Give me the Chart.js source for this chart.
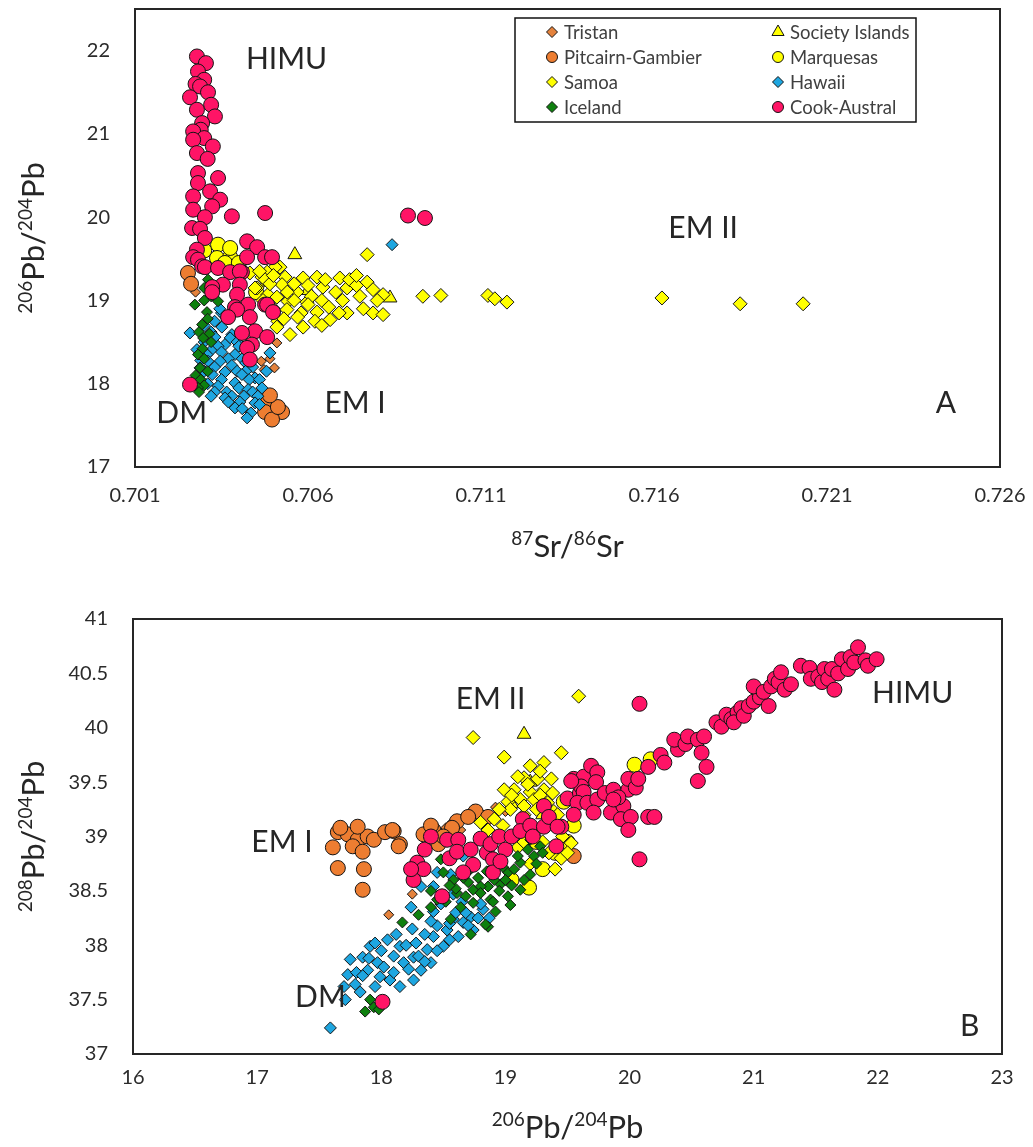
<!DOCTYPE html>
<html>
<head>
<meta charset="utf-8">
<script src="https://cdn.jsdelivr.net/npm/chart.js@4.4.0/dist/chart.umd.min.js"></script>
<style>
  html, body { margin: 0; padding: 0; background: #fff; }
  #wrap { position: relative; width: 1033px; height: 1147px; }
  canvas { position: absolute; left: 0; }
  #chartA { top: 0; }
  #chartB { top: 580px; }
</style>
</head>
<body>
<div id="wrap">
  <canvas id="chartA" width="1033" height="580"></canvas>
  <canvas id="chartB" width="1033" height="567"></canvas>
</div>
<script>
// --- DATOS: ticks ---
const srTickLabels = ['0.701', '0.706', '0.711', '0.716', '0.721', '0.726'];
const pb206TickLabelsA = ['17', '18', '19', '20', '21', '22'];
const pb206TickLabelsB = ['16', '17', '18', '19', '20', '21', '22', '23'];
const pb208TickLabels = ['37', '37.5', '38', '38.5', '39', '39.5', '40', '40.5', '41'];

// --- DATOS: series (A = 87Sr/86Sr vs 206Pb/204Pb, B = 206Pb/204Pb vs 208Pb/204Pb) ---
const seriesNames = ['Tristan', 'Society Islands', 'Pitcairn-Gambier', 'Marquesas', 'Samoa', 'Hawaii', 'Iceland', 'Cook-Austral'];

const tristanA = [[0.70473,18.17],[0.70503,18.19],[0.70510,18.49],[0.70275,19.10],[0.70465,18.27],[0.70490,18.30]];
const tristanB = [[18.06,38.28],[18.25,38.47],[18.74,39.25],[18.80,39.22],[18.66,39.18],[18.57,39.13],[18.92,39.27],[19.00,39.23],[18.52,39.08],[18.88,39.16],[18.64,39.06],[18.45,38.98]];

const societyA = [[0.70562,19.55],[0.70837,19.03],[0.70480,19.22],[0.70600,19.12]];
const societyB = [[19.15,39.94],[19.20,39.50],[19.05,39.30],[19.30,39.20]];

const pitcairnA = [[0.70484,17.78],[0.70505,17.66],[0.70476,17.66],[0.70525,17.66],[0.70496,17.57],[0.70513,17.72],[0.70490,17.86],[0.70253,19.33],[0.70262,19.20]];
const pitcairnB = [[17.65,39.04],[17.73,39.02],[17.81,38.97],[17.89,39.00],[17.77,38.91],[17.85,38.86],[17.94,38.97],[17.61,38.90],[18.03,39.04],[18.10,39.05],[18.15,38.93],[17.65,38.71],[17.86,38.70],[17.85,38.51],[17.81,39.09],[17.67,39.08],[18.14,38.91],[18.09,39.06],[18.42,39.06],[18.46,38.93],[18.61,39.14],[18.76,39.23],[18.70,39.18],[18.86,39.18],[19.55,38.82],[18.57,39.08],[18.50,39.00],[18.34,39.02],[18.40,39.10]];

const marquesasA = [[0.70340,19.67],[0.70337,19.51],[0.70375,19.52],[0.70375,19.63],[0.70300,19.60],[0.70360,19.45],[0.70400,19.45],[0.70450,19.10]];
const marquesasB = [[20.04,39.66],[20.17,39.71],[19.47,39.32],[19.19,38.53],[19.55,39.10],[19.40,38.85],[19.30,38.70],[19.50,38.95],[19.05,38.60],[19.25,38.95]];

const samoaA = [[0.70771,19.55],[0.70519,19.40],[0.70505,19.40],[0.70432,19.33],[0.70482,19.34],[0.70534,19.28],[0.70467,19.28],[0.70586,19.27],[0.70626,19.28],[0.70692,19.27],[0.70476,19.25],[0.70771,19.22],[0.70525,19.19],[0.70643,19.16],[0.70713,19.15],[0.70453,19.15],[0.70447,19.15],[0.70788,19.13],[0.70568,19.10],[0.70817,19.07],[0.70484,19.07],[0.70510,19.04],[0.70597,18.98],[0.70542,18.99],[0.70539,18.89],[0.70626,18.86],[0.70713,18.85],[0.70788,18.85],[0.70817,18.83],[0.70664,18.77],[0.70513,18.75],[0.70586,18.68],[0.70510,18.68],[0.70548,18.59],[0.70460,19.35],[0.70490,19.20],[0.70500,19.30],[0.70540,19.10],[0.70560,19.20],[0.70560,19.00],[0.70580,18.85],[0.70600,19.18],[0.70610,19.05],[0.70640,19.00],[0.70650,19.25],[0.70660,18.92],[0.70680,19.10],[0.70700,19.00],[0.70720,19.25],[0.70740,19.18],[0.70750,19.05],[0.70760,18.90],[0.70690,18.85],[0.70620,18.75],[0.70570,18.80],[0.70530,18.78],[0.70500,18.90],[0.70470,19.00],[0.70640,18.70],[0.70600,18.95],[0.70740,19.30],[0.70800,19.00],[0.70932,19.05],[0.70984,19.06],[0.71120,19.06],[0.71140,19.02],[0.71175,18.98],[0.71623,19.03],[0.71849,18.96],[0.72031,18.96]];
const samoaB = [[18.74,39.91],[18.99,39.73],[19.45,39.77],[19.59,40.29],[19.20,39.65],[19.31,39.68],[19.15,39.54],[19.26,39.53],[19.37,39.53],[19.07,39.43],[18.99,39.43],[19.20,39.41],[19.31,39.43],[19.12,39.34],[19.23,39.34],[19.02,39.32],[19.34,39.31],[19.39,39.23],[18.80,39.13],[18.91,39.16],[18.86,39.06],[19.46,39.00],[19.53,38.94],[19.04,39.25],[19.15,39.20],[19.25,39.05],[19.35,38.85],[19.45,38.80],[19.20,38.75],[19.10,38.90],[19.28,39.60],[19.10,39.55],[19.18,39.48],[19.05,39.38],[19.28,39.38],[19.15,39.28],[18.95,39.25],[19.38,39.40],[19.25,39.25],[18.98,39.10],[19.42,39.20],[19.50,38.85],[19.30,38.95],[19.15,38.95],[19.40,38.70]];

const hawaiiA = [[0.70843,19.67],[0.70360,18.81],[0.70350,18.85],[0.70330,18.75],[0.70345,18.90],[0.70300,18.70],[0.70351,18.68],[0.70320,18.62],[0.70259,18.61],[0.70380,18.59],[0.70331,18.56],[0.70375,18.55],[0.70395,18.50],[0.70300,18.50],[0.70360,18.47],[0.70340,18.45],[0.70400,18.45],[0.70279,18.41],[0.70320,18.40],[0.70350,18.38],[0.70300,18.38],[0.70490,18.37],[0.70308,18.35],[0.70389,18.35],[0.70370,18.30],[0.70410,18.30],[0.70290,18.28],[0.70346,18.27],[0.70311,18.27],[0.70420,18.25],[0.70380,18.22],[0.70440,18.20],[0.70330,18.20],[0.70288,18.19],[0.70395,18.15],[0.70420,18.15],[0.70300,18.15],[0.70480,18.15],[0.70360,18.14],[0.70323,18.11],[0.70409,18.11],[0.70447,18.07],[0.70350,18.05],[0.70430,18.05],[0.70460,18.05],[0.70297,18.01],[0.70389,18.01],[0.70310,18.00],[0.70340,17.97],[0.70400,17.95],[0.70467,17.95],[0.70427,17.93],[0.70365,17.90],[0.70330,17.90],[0.70440,17.90],[0.70320,17.85],[0.70380,17.85],[0.70415,17.85],[0.70455,17.85],[0.70360,17.83],[0.70403,17.78],[0.70370,17.78],[0.70447,17.77],[0.70460,17.75],[0.70389,17.71],[0.70410,17.70],[0.70435,17.65],[0.70424,17.59]];
const hawaiiB = [[17.59,37.24],[17.73,37.73],[17.85,37.89],[17.89,37.77],[17.83,37.57],[17.71,37.50],[17.79,37.64],[17.75,37.87],[17.91,37.99],[17.97,37.84],[17.99,37.71],[18.05,38.05],[18.07,37.68],[18.15,37.99],[18.18,37.84],[18.15,37.62],[18.26,37.89],[18.32,37.77],[18.26,37.68],[18.37,37.96],[18.42,38.08],[18.40,37.84],[18.50,37.99],[18.53,38.14],[18.62,38.08],[18.58,38.24],[18.66,38.21],[18.72,38.26],[18.74,38.14],[18.82,38.33],[18.24,38.35],[18.42,38.31],[18.58,38.47],[18.87,38.25],[18.32,38.54],[18.45,38.67],[18.56,38.65],[18.42,38.54],[18.66,38.82],[17.80,37.75],[17.90,37.88],[17.95,37.62],[18.00,37.95],[18.02,37.80],[18.10,37.90],[18.10,37.75],[18.20,38.00],[18.22,37.78],[18.28,38.02],[18.30,37.90],[18.35,38.10],[18.35,37.85],[18.45,38.18],[18.45,37.95],[18.55,38.05],[18.55,38.20],[18.60,38.30],[18.68,38.30],[18.70,38.18],[18.78,38.25],[18.80,38.38],[18.48,38.38],[18.40,38.22],[18.12,38.10],[17.95,38.02],[17.85,37.72],[17.70,37.62],[18.25,38.15],[18.65,38.40]];

const icelandA = [[0.70311,19.25],[0.70300,19.15],[0.70331,19.11],[0.70320,19.05],[0.70340,18.99],[0.70300,19.00],[0.70273,18.95],[0.70308,18.86],[0.70310,18.78],[0.70294,18.71],[0.70285,18.62],[0.70315,18.60],[0.70297,18.55],[0.70320,18.50],[0.70295,18.42],[0.70282,18.35],[0.70300,18.30],[0.70288,18.19],[0.70310,18.15],[0.70275,18.10],[0.70290,18.05],[0.70300,17.98],[0.70282,17.95],[0.70285,17.90]];
const icelandB = [[17.91,37.50],[17.94,37.43],[17.87,37.39],[17.98,37.41],[18.17,38.21],[18.45,38.42],[18.61,38.48],[18.74,38.51],[18.86,38.54],[18.96,38.56],[18.64,38.35],[18.74,38.39],[18.88,38.42],[19.02,38.45],[18.72,38.10],[18.86,38.17],[18.50,38.67],[18.58,38.60],[18.70,38.58],[18.80,38.54],[18.91,38.60],[19.02,38.67],[19.12,38.76],[19.23,38.82],[19.28,38.91],[19.18,38.88],[19.07,38.70],[18.72,38.70],[18.48,38.79],[19.20,38.97],[19.12,38.51],[19.04,38.37],[18.92,38.31],[19.20,38.65],[18.84,38.19],[18.56,38.24],[18.30,38.28],[18.40,38.35],[18.52,38.40],[18.68,38.45],[18.80,38.48],[18.95,38.50],[19.05,38.55],[19.15,38.60],[19.25,38.75],[19.30,38.85],[18.98,38.72],[18.85,38.68],[18.60,38.52],[18.78,38.62],[19.10,38.82],[18.90,38.40],[19.00,38.60],[18.66,38.62],[18.55,38.55],[18.40,38.50]];

const cookA = [[0.70279,21.93],[0.70305,21.85],[0.70282,21.75],[0.70300,21.65],[0.70275,21.60],[0.70288,21.57],[0.70311,21.50],[0.70259,21.44],[0.70320,21.35],[0.70279,21.29],[0.70331,21.21],[0.70294,21.13],[0.70290,21.05],[0.70268,21.03],[0.70300,20.95],[0.70268,20.93],[0.70325,20.85],[0.70279,20.77],[0.70310,20.70],[0.70282,20.53],[0.70340,20.47],[0.70282,20.41],[0.70317,20.31],[0.70268,20.25],[0.70346,20.21],[0.70323,20.13],[0.70268,20.09],[0.70476,20.05],[0.70380,20.01],[0.70302,20.00],[0.70889,20.02],[0.70938,19.99],[0.70265,19.87],[0.70288,19.86],[0.70302,19.75],[0.70424,19.71],[0.70453,19.64],[0.70279,19.61],[0.70268,19.52],[0.70424,19.52],[0.70476,19.52],[0.70496,19.52],[0.70282,19.49],[0.70294,19.41],[0.70302,19.40],[0.70340,19.39],[0.70375,19.34],[0.70409,19.34],[0.70403,19.35],[0.70354,19.19],[0.70403,19.19],[0.70323,19.16],[0.70323,19.10],[0.70395,19.07],[0.70427,18.95],[0.70476,18.95],[0.70482,18.95],[0.70389,18.92],[0.70395,18.89],[0.70499,18.86],[0.70432,18.80],[0.70369,18.80],[0.70447,18.63],[0.70409,18.61],[0.70482,18.56],[0.70438,18.47],[0.70424,18.43],[0.70432,18.29],[0.70259,17.99]];
const cookB = [[18.01,37.48],[18.29,38.76],[18.34,38.70],[18.26,38.60],[18.24,38.70],[18.35,38.88],[18.40,39.00],[18.53,38.97],[18.55,38.80],[18.62,38.97],[18.61,38.86],[18.72,38.88],[18.74,38.74],[18.66,38.67],[18.49,38.45],[18.80,38.98],[18.85,38.85],[18.88,38.93],[18.95,39.00],[19.00,38.88],[19.05,39.00],[18.90,38.79],[18.90,38.67],[18.96,38.77],[19.14,39.16],[19.12,39.05],[19.20,39.10],[19.22,39.00],[19.31,39.28],[19.31,39.09],[19.35,39.18],[19.41,38.91],[19.45,39.09],[19.42,39.09],[19.50,39.35],[19.55,39.53],[19.60,39.40],[19.63,39.55],[19.69,39.65],[19.74,39.59],[19.73,39.50],[19.61,39.46],[19.53,39.51],[19.63,39.41],[19.58,39.31],[19.66,39.31],[19.74,39.34],[19.55,39.20],[19.71,39.22],[19.80,39.40],[19.85,39.22],[19.87,39.43],[19.95,39.28],[19.99,39.43],[19.91,39.36],[19.87,39.34],[19.99,39.53],[20.05,39.45],[20.07,39.53],[19.93,39.16],[20.01,39.18],[19.99,39.06],[20.15,39.18],[20.20,39.18],[20.08,38.79],[20.08,40.22],[20.15,39.64],[20.25,39.75],[20.28,39.68],[20.39,39.80],[20.36,39.89],[20.45,39.85],[20.47,39.92],[20.55,39.89],[20.60,39.92],[20.58,39.77],[20.62,39.64],[20.55,39.51],[20.70,40.05],[20.74,40.01],[20.78,40.12],[20.82,40.08],[20.87,40.14],[20.84,40.05],[20.90,40.18],[20.92,40.11],[20.96,40.20],[21.00,40.24],[21.05,40.28],[21.12,40.20],[21.00,40.38],[21.08,40.33],[21.14,40.38],[21.17,40.45],[21.20,40.42],[21.22,40.51],[21.25,40.35],[21.30,40.40],[21.38,40.57],[21.45,40.55],[21.46,40.45],[21.52,40.47],[21.55,40.42],[21.57,40.54],[21.60,40.45],[21.63,40.54],[21.65,40.35],[21.68,40.50],[21.71,40.63],[21.76,40.54],[21.78,40.65],[21.81,40.60],[21.84,40.74],[21.90,40.62],[21.92,40.57],[21.99,40.63]];

// --- ETIQUETAS (texto, x, y en unidades de datos) ---
const marksA = [['HIMU', 0.70538, 21.89], ['EM II', 0.71742, 19.87], ['EM I', 0.70736, 17.77], ['DM', 0.70235, 17.65], ['A', 0.72444, 17.76]];
const marksB = [['EM II', 18.88, 40.26], ['EM I', 17.20, 38.95], ['DM', 17.51, 37.52], ['HIMU', 22.28, 40.32], ['B', 22.74, 37.25]];

// --- ESTILO ---
const FONT = "Lato, 'Open Sans', sans-serif";
const TEXT = '#262626';
const seriesStyle = {
    'Tristan':          { shape: 'rectRot',  fill: '#E4823C', r: 5,   order: 7 },
    'Society Islands':  { shape: 'triangle', fill: '#FFFF00', r: 8,   order: 5 },
    'Pitcairn-Gambier': { shape: 'circle',   fill: '#ED7D31', r: 7.5, order: 6 },
    'Marquesas':        { shape: 'circle',   fill: '#FFFF00', r: 7.5, order: 4 },
    'Samoa':            { shape: 'rectRot',  fill: '#FFFF00', r: 7,   order: 3 },
    'Hawaii':           { shape: 'rectRot',  fill: '#1EA6E0', r: 6,   order: 2 },
    'Iceland':          { shape: 'rectRot',  fill: '#0E800E', r: 5.5, order: 1 },
    'Cook-Austral':     { shape: 'circle',   fill: '#FF1466', r: 7.5, order: 0 }
};
const dataA = { 'Tristan': tristanA, 'Society Islands': societyA, 'Pitcairn-Gambier': pitcairnA, 'Marquesas': marquesasA, 'Samoa': samoaA, 'Hawaii': hawaiiA, 'Iceland': icelandA, 'Cook-Austral': cookA };
const dataB = { 'Tristan': tristanB, 'Society Islands': societyB, 'Pitcairn-Gambier': pitcairnB, 'Marquesas': marquesasB, 'Samoa': samoaB, 'Hawaii': hawaiiB, 'Iceland': icelandB, 'Cook-Austral': cookB };

function buildDatasets(src) {
    return seriesNames.map(name => {
        const s = seriesStyle[name];
        return {
            label: name,
            data: src[name].map(p => ({ x: p[0], y: p[1] })),
            pointStyle: s.shape,
            pointRadius: s.r,
            pointHoverRadius: s.r,
            backgroundColor: s.fill,
            borderColor: '#141414',
            borderWidth: 1,
            order: s.order
        };
    });
}

// --- PLUGINS ---
const frameBox = {
    id: 'frameBox',
    beforeDatasetsDraw(chart) {
        const { ctx, chartArea: a } = chart;
        ctx.save();
        ctx.strokeStyle = '#262626';
        ctx.lineWidth = 2;
        ctx.strokeRect(a.left, a.top, a.right - a.left, a.bottom - a.top);
        ctx.restore();
    }
};

const textMarks = {
    id: 'textMarks',
    afterDatasetsDraw(chart, args, opts) {
        const { ctx, scales } = chart;
        ctx.save();
        ctx.fillStyle = TEXT;
        ctx.textAlign = 'center';
        ctx.textBaseline = 'middle';
        ctx.font = '30px ' + FONT;
        (opts.items || []).forEach(m => {
            ctx.fillText(m[0], scales.x.getPixelForValue(m[1]), scales.y.getPixelForValue(m[2]));
        });
        ctx.restore();
    }
};

function drawRich(ctx, parts, cx, cy, rotate) {
    ctx.save();
    ctx.translate(cx, cy);
    if (rotate) ctx.rotate(-Math.PI / 2);
    ctx.fillStyle = TEXT;
    ctx.textBaseline = 'alphabetic';
    ctx.textAlign = 'left';
    let total = 0;
    const widths = parts.map(p => {
        ctx.font = (p[1] ? '19px ' : '31px ') + FONT;
        const w = ctx.measureText(p[0]).width;
        total += w;
        return w;
    });
    let x = -total / 2;
    parts.forEach((p, i) => {
        ctx.font = (p[1] ? '19px ' : '31px ') + FONT;
        ctx.fillText(p[0], x, p[1] ? -1 : 11);
        x += widths[i];
    });
    ctx.restore();
}

const axisTitles = {
    id: 'axisTitles',
    afterDraw(chart, args, opts) {
        const { ctx, chartArea: a } = chart;
        drawRich(ctx, opts.x, (a.left + a.right) / 2, opts.xPos, false);
        drawRich(ctx, opts.y, opts.yPos, (a.top + a.bottom) / 2, true);
    }
};

const boxLegend = {
    id: 'boxLegend',
    afterDatasetsDraw(chart, args, opts) {
        if (!opts.show) return;
        const { ctx } = chart;
        const left = 515, top = 18, w = 401, h = 104;
        ctx.save();
        ctx.fillStyle = '#fff';
        ctx.fillRect(left, top, w, h);
        ctx.strokeStyle = '#111';
        ctx.lineWidth = 1.5;
        ctx.strokeRect(left, top, w, h);
        ctx.font = '18.5px ' + FONT;
        ctx.textBaseline = 'middle';
        ctx.textAlign = 'left';
        chart.data.datasets.forEach((ds, i) => {
            const col = i % 2, row = Math.floor(i / 2);
            const mx = left + (col ? 263 : 37);
            const my = top + 14 + row * 25;
            ctx.fillStyle = ds.backgroundColor;
            ctx.strokeStyle = ds.borderColor;
            ctx.lineWidth = 1;
            const r = ds.pointStyle === 'triangle' ? 7 : 5.5;
            Chart.helpers.drawPoint(ctx, { pointStyle: ds.pointStyle, radius: r, borderWidth: 1, rotation: 0 }, mx, my);
            ctx.fillStyle = '#404040';
            ctx.fillText(ds.label, mx + 12, my + 1);
        });
        ctx.restore();
    }
};

Chart.defaults.font.family = FONT;
Chart.defaults.color = '#333';

function tickAxis(min, max, labels, pad, fitKey, fitVal) {
    return {
        type: 'linear',
        min: min,
        max: max,
        afterBuildTicks: s => { s.ticks = labels.map(t => ({ value: parseFloat(t) })); },
        ticks: {
            callback: (v, i) => labels[i],
            autoSkip: false,
            maxRotation: 0,
            padding: pad,
            color: '#2b2b2b',
            font: { size: 20, family: FONT }
        },
        grid: { display: false, drawTicks: false },
        border: { display: false },
        afterFit: s => {
            s[fitKey] = fitVal;
            // keep layout padding in charge of the plot box
            s.paddingTop = 0; s.paddingBottom = 0; s.paddingLeft = 0; s.paddingRight = 0;
        }
    };
}

function makeChart(id, src, xAxis, yAxis, padTop, padRight, marks, titles, showLegend) {
    return new Chart(document.getElementById(id), {
        type: 'scatter',
        data: { datasets: buildDatasets(src) },
        options: {
            responsive: false,
            animation: false,
            events: [],
            layout: { padding: { top: padTop, right: padRight, left: 0, bottom: 0 } },
            scales: { x: xAxis, y: yAxis },
            plugins: {
                legend: { display: false },
                tooltip: { enabled: false },
                textMarks: { items: marks },
                axisTitles: titles,
                boxLegend: { show: showLegend }
            }
        },
        plugins: [frameBox, textMarks, axisTitles, boxLegend]
    });
}

makeChart('chartA', dataA,
    tickAxis(0.701, 0.726, srTickLabels, 17, 'height', 113),
    tickAxis(17, 22.5, pb206TickLabelsA, 25, 'width', 135),
    9, 33, marksA,
    { x: [['87', true], ['Sr/', false], ['86', true], ['Sr', false]], xPos: 546,
      y: [['206', true], ['Pb/', false], ['204', true], ['Pb', false]], yPos: 33 },
    true);

makeChart('chartB', dataB,
    tickAxis(16, 23, pb206TickLabelsB, 12, 'height', 93),
    tickAxis(37, 41, pb208TickLabels, 25, 'width', 133),
    39, 31, marksB,
    { x: [['206', true], ['Pb/', false], ['204', true], ['Pb', false]], xPos: 547,
      y: [['208', true], ['Pb/', false], ['204', true], ['Pb', false]], yPos: 33 },
    false);
</script>
</body>
</html>
